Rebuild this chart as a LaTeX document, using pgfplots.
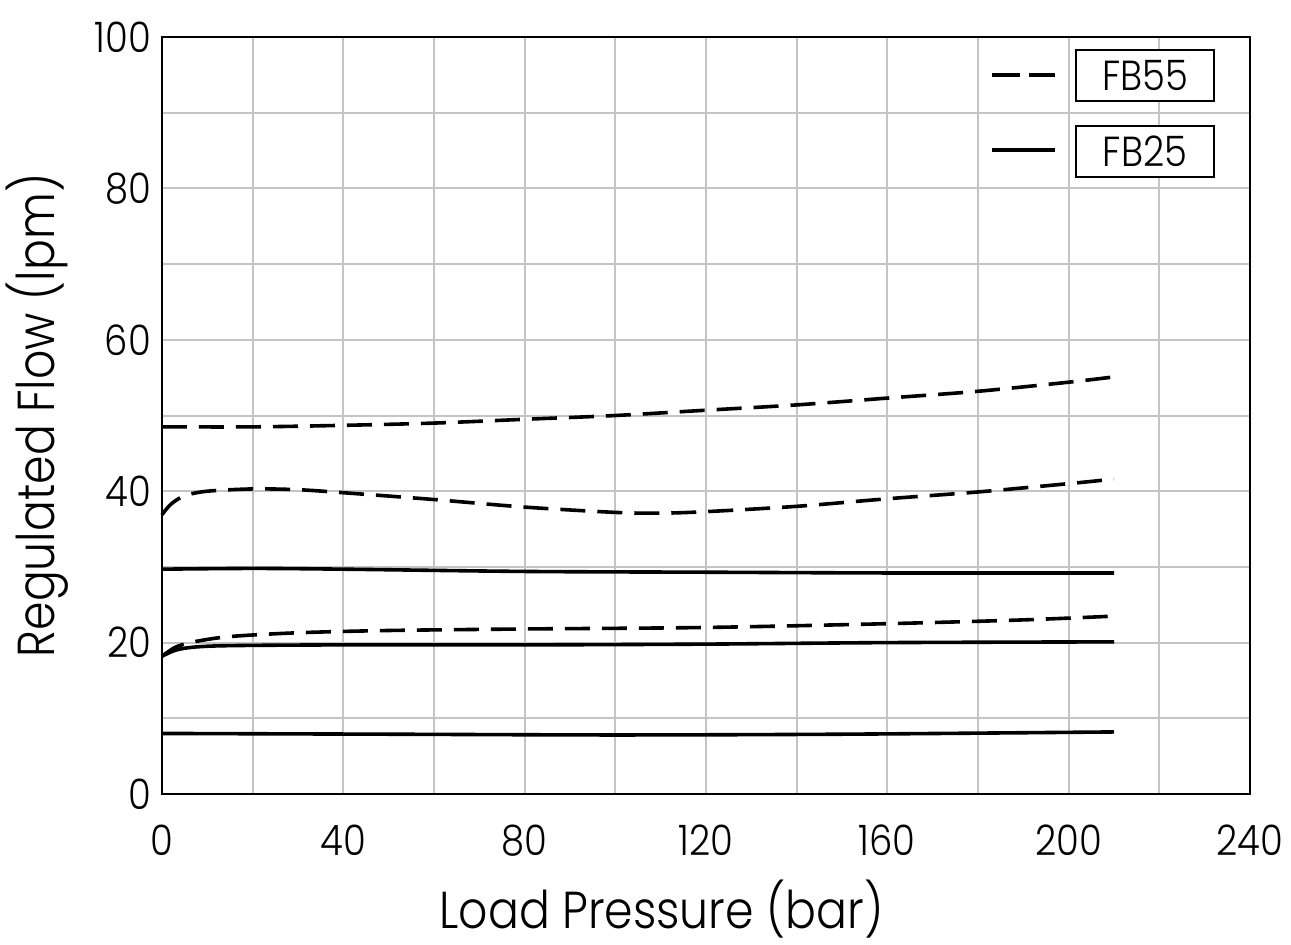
\documentclass[border=0pt]{standalone}
\usepackage{pgfplots}
\pgfplotsset{compat=1.18}
\usepackage{fontspec}
\setmainfont{Poppins Light}[FakeStretch=0.88]
\definecolor{gridgray}{HTML}{C4C4C4}

\begin{document}
\begin{tikzpicture}
% page = 1291 x 944 px at 0.5pt per px
\path[use as bounding box] (-81pt,-75pt) rectangle (564.5pt,397pt);
\begin{axis}[
    at={(0,0)}, anchor=south west,
    scale only axis,
    width=544pt, height=378.5pt,
    xmin=0, xmax=240, ymin=0, ymax=100,
    xtick={0,40,...,240}, ytick={0,20,...,100},
    minor xtick={20,60,...,220}, minor ytick={10,30,...,90},
    grid=both,
    major grid style={gridgray, line width=1pt},
    minor grid style={gridgray, line width=1pt},
    tick style={draw=none},
    axis line style={black, line width=1pt},
    /pgf/number format/assume math mode=true,
    ticklabel style={font=\fontsize{21}{24}\selectfont},
    xticklabel style={yshift=-12pt},
    yticklabel style={xshift=-2pt},
    xlabel={Load Pressure (bar)},
    ylabel={Regulated Flow (lpm)},
    label style={font=\fontsize{26}{30}\selectfont},
    xlabel style={at={(axis description cs:0.459,0)}, anchor=base, yshift=-67pt},
    ylabel style={at={(axis description cs:0,0.5)}, anchor=base, yshift=53.5pt},
    clip=false,
]
% FB55 (dashed)
\addplot[black, line width=1.8pt, dash pattern=on 12.5pt off 6pt, smooth] coordinates {
 (0,48.5)(20,48.5)(40,48.7)(60,49.0)(80,49.5)(100,50.0)(120,50.7)(140,51.4)(160,52.3)(180,53.2)(200,54.4)(210,55.1)};
\addplot[black, line width=1.8pt, dash pattern=on 12.5pt off 6pt, smooth] coordinates {
 (0,36.9)(2,38.3)(5,39.4)(10,40.0)(20,40.3)(30,40.2)(40,39.8)(60,38.9)(80,37.9)(100,37.2)(110,37.1)(120,37.3)(140,38.0)(160,39.0)(180,39.9)(200,41.0)(210,41.6)};
\addplot[black, line width=1.8pt, dash pattern=on 12.5pt off 6pt, smooth] coordinates {
 (0,18.2)(3,19.4)(7,20.1)(15,20.8)(30,21.3)(50,21.6)(80,21.8)(120,22.0)(160,22.5)(190,23.0)(210,23.5)};
% FB25 (solid)
\addplot[black, line width=1.8pt, smooth] coordinates {
 (0,29.7)(20,29.8)(40,29.7)(80,29.4)(120,29.3)(160,29.2)(210,29.2)};
\addplot[black, line width=1.8pt, smooth] coordinates {
 (0,18.2)(3,19.0)(7,19.4)(15,19.6)(40,19.7)(80,19.7)(120,19.8)(160,20.0)(210,20.1)};
\addplot[black, line width=1.8pt, smooth] coordinates {
 (0,8.0)(50,7.9)(100,7.8)(150,7.9)(210,8.2)};

% legend
\draw[black, line width=1.8pt, dash pattern=on 14pt off 4.5pt] (axis cs:183.1,95.0) -- (axis cs:197.0,95.0);
\draw[black, line width=1.8pt] (axis cs:183.1,85.1) -- (axis cs:197.0,85.1);
\node[draw=black, line width=1pt, fill=white, minimum width=69pt, minimum height=25.5pt, inner sep=0pt,
      font=\fontsize{21}{24}\selectfont] at (axis cs:216.85,94.9) {FB55};
\node[draw=black, line width=1pt, fill=white, minimum width=69pt, minimum height=25.5pt, inner sep=0pt,
      font=\fontsize{21}{24}\selectfont] at (axis cs:216.85,84.9) {FB25};
\end{axis}
\end{tikzpicture}
\end{document}
